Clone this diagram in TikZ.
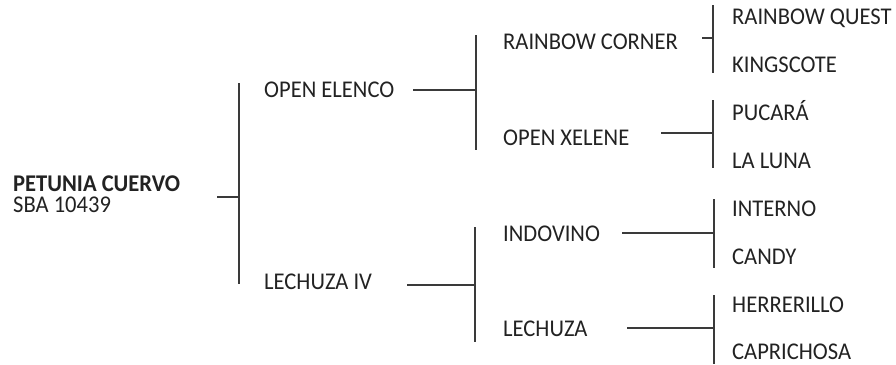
\documentclass[tikz,border=0pt]{standalone}
\usepackage{fontspec}
\setmainfont[FakeStretch=0.94]{Carlito}
\definecolor{ink}{HTML}{222222}
\definecolor{rule}{HTML}{3A3A3A}
\begin{document}
\begin{tikzpicture}[x=1pt,y=-1pt,
  lbl/.style={anchor=base west,inner sep=0pt,text=ink,font=\fontsize{24}{20}\selectfont},
  conn/.style={draw=rule,line width=1.3pt}]
\useasboundingbox (0,0) rectangle (896,364);
% texts
\node[anchor=west,inner sep=0pt,text=ink,align=left,font=\fontsize{24}{21}\selectfont] (root) at (13,194.6) {\textbf{PETUNIA CUERVO}\\SBA 10439};
\node[lbl] (oe) at (264,97) {OPEN ELENCO};
\node[lbl] (l4) at (264,289) {LECHUZA IV};
\node[lbl] (rc) at (503,49) {RAINBOW CORNER};
\node[lbl] (ox) at (503,145) {OPEN XELENE};
\node[lbl] (ind) at (503,241) {INDOVINO};
\node[lbl] (lec) at (503,336) {LECHUZA};
\node[lbl] (rq) at (732,24) {RAINBOW QUEST};
\node[lbl] (ki) at (732,72) {KINGSCOTE};
\node[lbl] (pu) at (732,120) {PUCARÁ};
\node[lbl] (ll) at (732,168) {LA LUNA};
\node[lbl] (in) at (732,216) {INTERNO};
\node[lbl] (ca) at (732,264.5) {CANDY};
\node[lbl] (he) at (732,312.5) {HERRERILLO};
\node[lbl] (cp) at (732,359.5) {CAPRICHOSA};
% connector coordinates
\coordinate (r0) at (217,197);   \coordinate (r1) at (239,197);
\coordinate (rt) at (239,83);    \coordinate (rb) at (239,284);
\coordinate (a0) at (413,90);    \coordinate (a1) at (476,90);
\coordinate (at) at (476,35);    \coordinate (ab) at (476,150);
\coordinate (b0) at (407,285);   \coordinate (b1) at (475,285);
\coordinate (bt) at (475,227);   \coordinate (bb) at (475,342);
\coordinate (c0) at (702,38);    \coordinate (c1) at (713,38);
\coordinate (ct) at (713,5);     \coordinate (cb) at (713,73);
\coordinate (d0) at (661,133);   \coordinate (d1) at (713,133);
\coordinate (dt) at (713,100);   \coordinate (db) at (713,168);
\coordinate (e0) at (622,233);   \coordinate (e1) at (714,233);
\coordinate (et) at (714,199);   \coordinate (eb) at (714,268);
\coordinate (f0) at (627,328);   \coordinate (f1) at (714,328);
\coordinate (ft) at (714,295);   \coordinate (fb) at (714,364);
% connectors
\draw[conn] (r0) -- (r1); \draw[conn] (rt) -- (rb);
\draw[conn] (a0) -- (a1); \draw[conn] (at) -- (ab);
\draw[conn] (b0) -- (b1); \draw[conn] (bt) -- (bb);
\draw[conn] (c0) -- (c1); \draw[conn] (ct) -- (cb);
\draw[conn] (d0) -- (d1); \draw[conn] (dt) -- (db);
\draw[conn] (e0) -- (e1); \draw[conn] (et) -- (eb);
\draw[conn] (f0) -- (f1); \draw[conn] (ft) -- (fb);
\end{tikzpicture}
\end{document}
